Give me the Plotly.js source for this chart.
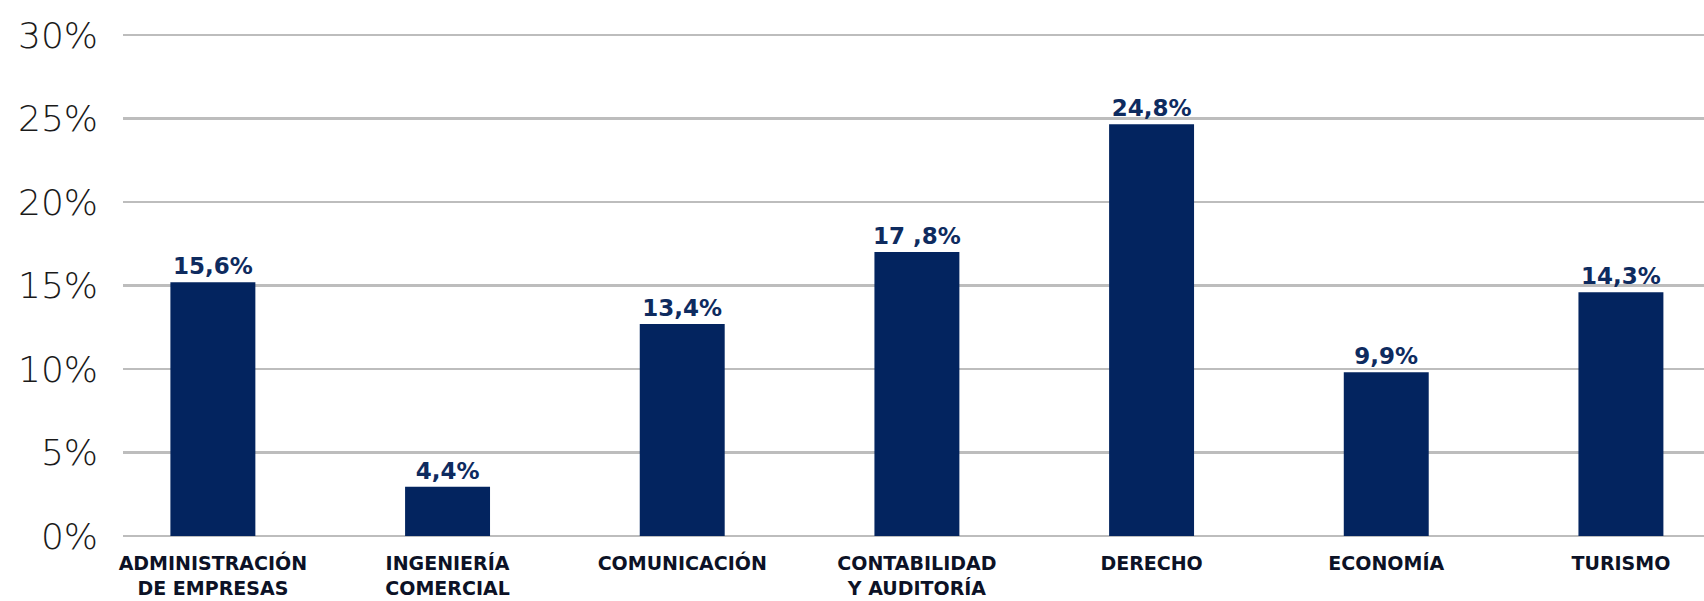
<!DOCTYPE html>
<html>
<head>
<meta charset="utf-8">
<script src="https://cdn.plot.ly/plotly-3.0.1.min.js"></script>
<style>
html,body{margin:0;padding:0;background:#fff;}
#chart{width:1704px;height:601px;}
</style>
</head>
<body>
<div id="chart"></div>
<script>
const categories = [
  "ADMINISTRACIÓN<br>DE EMPRESAS",
  "INGENIERÍA<br>COMERCIAL",
  "COMUNICACIÓN",
  "CONTABILIDAD<br>Y AUDITORÍA",
  "DERECHO",
  "ECONOMÍA",
  "TURISMO"
];
// bar heights as drawn in the picture (percent)
const barValues = [15.2, 2.95, 12.7, 17.0, 24.65, 9.8, 14.6];
// value labels as printed above the bars
const valueLabels = ["15,6%", "4,4%", "13,4%", "17 ,8%", "24,8%", "9,9%", "14,3%"];
const yTickValues = [0, 5, 10, 15, 20, 25, 30];
const yTickLabels = ["0%", "5%", "10%", "15%", "20%", "25%", "30%"];

const trace = {
  type: "bar",
  x: categories,
  y: barValues,
  text: valueLabels,
  textposition: "outside",
  constraintext: "none",
  cliponaxis: false,
  textfont: {family: "DejaVu Sans", size: 23, weight: "bold", color: "#0e2b5f"},
  marker: {color: "#03245f"},
  width: 0.362,
  hoverinfo: "skip"
};

const layout = {
  width: 1704,
  height: 601,
  margin: {l: 123, r: 0, t: 33, b: 63},
  paper_bgcolor: "#ffffff",
  plot_bgcolor: "#ffffff",
  showlegend: false,
  xaxis: {
    type: "category",
    range: [-0.383, 6.354],
    showgrid: false,
    zeroline: false,
    showline: false,
    ticks: "",
    ticklabelstandoff: 12,
    tickfont: {family: "DejaVu Sans", size: 19, weight: "bold", color: "#0c1226"},
    fixedrange: true
  },
  yaxis: {
    range: [-0.12, 30.12],
    tickvals: yTickValues,
    ticktext: yTickLabels,
    showgrid: true,
    gridcolor: "#bdbdbd",
    gridwidth: 2.5,
    zeroline: false,
    showline: false,
    ticks: "",
    ticklabelstandoff: 24,
    tickfont: {family: "DejaVu Sans", size: 36, weight: 200, color: "#1a1a1a"},
    fixedrange: true
  }
};

Plotly.newPlot("chart", [trace], layout, {displayModeBar: false, staticPlot: true});
</script>
</body>
</html>
